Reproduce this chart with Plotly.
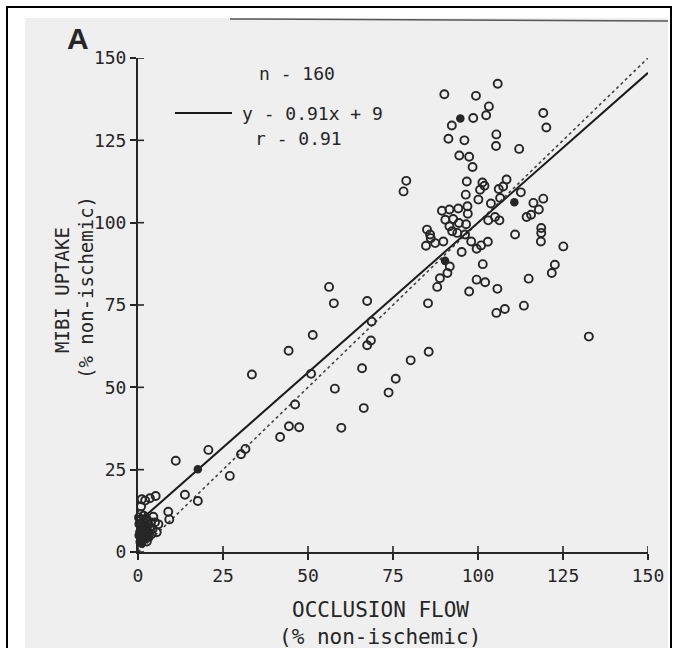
import plotly.graph_objects as go

# Occlusion flow (% non-ischemic) vs MIBI uptake (% non-ischemic), open circles
flow = [105.8, 90.1, 99.4, 103.2, 119.2, 98.6, 102.4, 92.3, 120.1, 91.3, 96.0,
        105.4, 105.3, 112.1, 94.5, 97.4, 98.4, 78.9, 78.1, 96.7, 101.3,
        100.6, 101.9, 108.4, 106.1, 107.4, 96.4, 100.1, 103.8, 106.5, 112.6,
        116.3, 119.2, 117.9, 89.4, 91.6, 94.2, 96.9, 97.0, 90.4, 92.7,
        94.4, 96.5, 114.3, 115.6, 103.0, 105.0, 106.3, 85.0, 85.9, 91.6,
        92.4, 93.9, 96.2, 110.9, 118.6, 118.6, 86.1, 84.7, 87.4, 89.8,
        98.0, 95.2, 99.6, 100.9, 102.9, 118.5, 125.1, 91.7, 91.0, 88.8,
        88.0, 101.4, 99.6, 102.1, 105.7, 97.4, 114.9, 122.6, 121.7, 85.3,
        105.4, 107.9, 113.5, 132.6, 85.5, 80.2, 75.8, 73.7, 56.2, 57.6,
        67.4, 68.7, 51.4, 44.3, 33.5, 68.5, 67.4, 65.9, 50.9, 57.9,
        46.2, 66.4, 44.4, 47.4, 59.8, 41.8, 11.1, 20.7, 30.3, 31.6,
        27.0, 13.8, 17.6, 8.9, 9.2, 5.2, 3.5, 2.1, 1.1, 0.9,
        4.5, 2.4, 5.0, 6.0,
        0.8, 1.2, 2.0, 2.5, 3.0, 1.0, 0.4, 1.8,
        2.2, 3.5, 4.0, 0.6, 1.4, 2.8, 3.8, 0.3, 2.6,
        0.9, 1.7, 4.3, 2.4, 3.1, 0.7, 5.5]
uptake = [142.2, 139.0, 138.5, 135.3, 133.3, 131.8, 132.6, 129.5, 128.9, 125.5, 125.0,
          126.8, 123.3, 122.4, 120.4, 120.0, 116.9, 112.7, 109.5, 112.5, 112.2,
          110.0, 111.2, 113.1, 110.2, 111.0, 108.5, 107.0, 105.8, 107.5, 109.2,
          106.0, 107.3, 104.0, 103.6, 104.0, 104.3, 105.0, 102.7, 100.9, 101.1,
          99.9, 99.5, 101.7, 102.4, 100.7, 101.7, 100.7, 97.9, 96.4, 98.9,
          97.4, 96.9, 96.4, 96.4, 98.4, 96.9, 95.3, 93.0, 93.8, 94.3,
          94.3, 91.1, 92.1, 93.1, 94.2, 94.3, 92.8, 86.7, 84.7, 83.1,
          80.5, 87.4, 82.7, 81.9, 79.9, 79.1, 83.0, 87.2, 84.7, 75.5,
          72.6, 73.8, 74.8, 65.4, 60.8, 58.2, 52.6, 48.4, 80.5, 75.5,
          76.2, 70.0, 65.9, 61.1, 53.9, 64.2, 62.8, 55.8, 54.1, 49.6,
          44.8, 43.7, 38.2, 37.9, 37.7, 34.9, 27.7, 31.0, 29.7, 31.3,
          23.1, 17.4, 15.5, 12.2, 9.9, 17.0, 16.3, 15.6, 16.0, 13.8,
          10.7, 10.2, 9.0, 8.4,
          4.5, 5.5, 4.2, 5.0, 6.0, 7.0, 8.5, 6.8,
          8.0, 7.5, 5.5, 6.0, 9.0, 9.5, 9.0, 10.5, 3.2,
          11.5, 11.0, 7.0, 6.6, 8.3, 9.8, 6.0]

# points printed as filled dots (incl. the solid mass near the origin)
flow_filled = [94.8, 110.7, 90.3, 17.6, 0.5, 1.5, 1.1, 3.3, 0.2, 1.3, 2.0, 0.9]
uptake_filled = [131.6, 106.2, 88.4, 25.1, 3.0, 3.5, 2.5, 4.4, 5.0, 8.0, 4.0, 6.4]

slope = 0.91
intercept = 9
fit_x = [0, 150]
identity_x = [0, 150]

tick_vals = [0, 25, 50, 75, 100, 125, 150]
tick_text = ["0", "25", "50", "75", "100", "125", "150"]

n_text = "n - 160"
eq_text = "y - 0.91x + 9"
r_text = "r - 0.91"

INK = "#262626"
MONO = "DejaVu Sans Mono"

fig = go.Figure()

fig.add_trace(go.Scatter(x=identity_x, y=identity_x, mode="lines",
                         line=dict(color="#444", width=1.6, dash="dot"),
                         hoverinfo="skip"))
fig.add_trace(go.Scatter(x=fit_x, y=[slope * v + intercept for v in fit_x], mode="lines",
                         line=dict(color="#1a1a1a", width=2),
                         hoverinfo="skip"))
fig.add_trace(go.Scatter(x=flow, y=uptake, mode="markers",
                         marker=dict(symbol="circle-open", size=8, color=INK,
                                     line=dict(width=1.9, color=INK)),
                         cliponaxis=False))
fig.add_trace(go.Scatter(x=flow_filled, y=uptake_filled, mode="markers",
                         marker=dict(symbol="circle", size=8.5, color=INK),
                         cliponaxis=False))

W, H = 677, 648
L, R, T, B = 138, 29, 58, 96
pw, ph = W - L - R, H - T - B


def px(xp):
    return (xp - L) / pw


def py(yp):
    return (H - B - yp) / ph


shapes = [
    dict(type="rect", xref="paper", yref="paper", x0=px(25), x1=px(668), y0=py(650), y1=py(18),
         fillcolor="#efefef", line=dict(width=0), layer="below"),
    dict(type="line", xref="paper", yref="paper", x0=px(230), x1=px(668), y0=py(19), y1=py(21),
         line=dict(color="#555", width=1.5), layer="below"),
    dict(type="rect", xref="paper", yref="paper", x0=px(7), x1=px(671), y0=py(662), y1=py(7),
         fillcolor="rgba(0,0,0,0)", line=dict(width=2, color="black"), layer="below"),
    dict(type="line", xref="paper", yref="paper", x0=px(175), x1=px(232), y0=py(113), y1=py(113),
         line=dict(color="#1a1a1a", width=2)),
]
for t in tick_vals:
    shapes.append(dict(type="line", xref="x", yref="paper", x0=t, x1=t, y0=0, y1=py(H - B - 6),
                       line=dict(color=INK, width=1.6)))
    shapes.append(dict(type="line", xref="paper", yref="y", x0=0, x1=px(L + 6), y0=t, y1=t,
                       line=dict(color=INK, width=1.6)))


def note(text, xp, yp, size, family=MONO, angle=0, anchor="center"):
    return dict(text=text, x=px(xp), y=py(yp), xref="paper", yref="paper", showarrow=False,
                xanchor=anchor, yanchor="middle", textangle=angle,
                font=dict(family=family, size=size, color=INK))


annotations = [
    note("<b>A</b>", 78, 39, 30, family="Liberation Sans"),
    note(n_text, 297, 73, 18),
    note(eq_text, 240, 113, 18, anchor="left"),
    note(r_text, 298, 138, 18),
    note("MIBI UPTAKE", 62, 290, 19, angle=-90),
    note("(% non-ischemic)", 86, 288, 19, angle=-90),
    note("OCCLUSION FLOW", 380, 610, 21),
    note("(% non-ischemic)", 380, 637, 21),
]

axis_common = dict(range=[0, 150], tickvals=tick_vals, ticktext=tick_text,
                   showgrid=False, zeroline=False, showline=True, linecolor=INK, linewidth=2,
                   ticks="outside", ticklen=6, tickwidth=1.6, tickcolor=INK,
                   tickfont=dict(family=MONO, size=18, color=INK), fixedrange=True)

fig.update_layout(
    width=W, height=H, margin=dict(l=L, r=R, t=T, b=B, pad=0),
    paper_bgcolor="white", plot_bgcolor="rgba(0,0,0,0)",
    showlegend=False,
    xaxis=axis_common,
    yaxis=axis_common,
    shapes=shapes, annotations=annotations,
)

fig.write_html("out.html", config={"displayModeBar": False},
               post_script="document.body.style.margin='0px';")
